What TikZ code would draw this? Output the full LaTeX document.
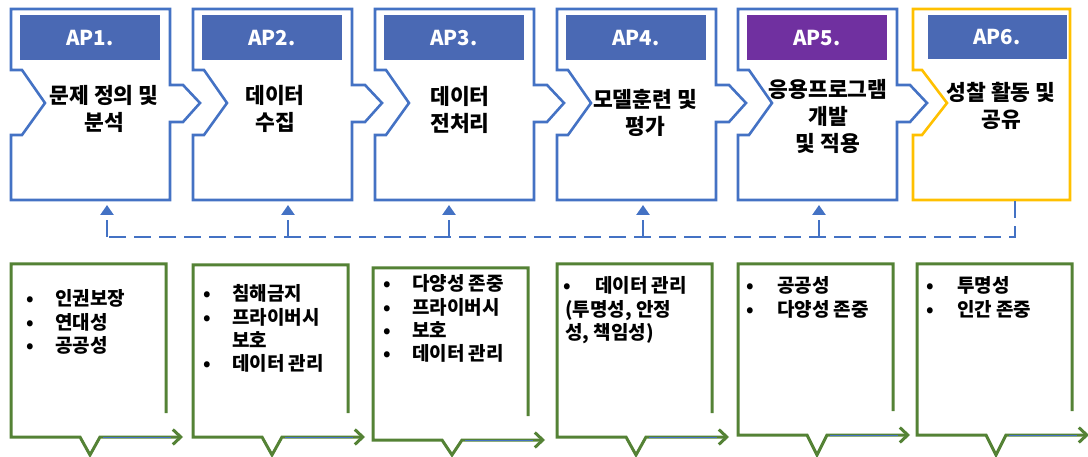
\documentclass[tikz,border=0pt]{standalone}
\usepackage{fontspec}
\setmainfont{Noto Sans CJK KR}
\usetikzlibrary{arrows.meta}
\definecolor{apblue}{HTML}{4472C4}
\definecolor{hdblue}{HTML}{4A69B4}
\definecolor{appurple}{HTML}{7030A0}
\definecolor{apyellow}{HTML}{FFC000}
\definecolor{apgreen}{HTML}{548235}
% bullet column: dot centred in a box, text starts after it
\newcommand\bul[1][50]{\makebox[#1pt][c]{•}}
\begin{document}
\begin{tikzpicture}[x=1pt,y=-1pt,
  outline/.style={line width=2.6pt,line join=miter},
  aplabel/.style={font=\fontsize{20.5}{22}\selectfont\bfseries,text=white,inner sep=0},
  title/.style={font=\fontsize{21.5}{27}\selectfont\bfseries,align=center,inner sep=0},
  itemtext/.style={font=\fontsize{19}{23.3}\selectfont\bfseries,anchor=base west,inner sep=0},
  bus/.style={draw=apblue,line width=2.6pt,dash pattern=on 17pt off 8pt},
  gbox/.style={draw=apgreen,line width=3pt,line join=miter,
    -{Straight Barb[length=8pt,width=15pt,line width=3pt]}},
]
\useasboundingbox (0,0) rectangle (1088,457);

% ---- process steps AP1..AP5 (blue outline, arrow on the right)
\foreach \x/\n/\hc in {11/1/hdblue,193/2/hdblue,375/3/hdblue,557/4/hdblue,738/5/appurple}{
  \draw[outline,draw=apblue] (\x,9) -- (\x+159,9) -- (\x+159,85) -- (\x+172,85)
    -- (\x+189,103) -- (\x+172,122) -- (\x+159,122) -- (\x+159,200) -- (\x,200)
    -- (\x,135) -- (\x+11,135) -- (\x+34,103) -- (\x+11,70) -- (\x,70) -- cycle;
  \fill[\hc] (\x+9,15) rectangle (\x+149,60);
  \node[aplabel] (ap\n) at (\x+79,38) {AP\n.};
}
% ---- last step AP6 (yellow outline, no arrow)
\draw[outline,draw=apyellow] (913,9) -- (1070,9) -- (1070,200) -- (913,200)
  -- (913,135) -- (922,135) -- (947,103) -- (922,70) -- (913,70) -- cycle;
\fill[hdblue] (928,15) rectangle (1067,59);
\node[aplabel] (ap6) at (997,37) {AP6.};

% ---- step titles
\node[title] (t1) at (104,108.5) {문제 정의 및\\분석};
\node[title] (t2) at (275,108.5) {데이터\\수집};
\node[title] (t3) at (460,109.5) {데이터\\전처리};
\node[title] (t4) at (645,113) {모델훈련 및\\평가};
\node[title] (t5) at (828,116.5) {응용프로그램\\개발\\및 적용};
\node[title] (t6) at (1001,105.5) {성찰 활동 및\\공유};

% ---- feedback bus from AP6 back to every step
\coordinate (s6) at (1015,201.5);
\coordinate (j6) at (1015,237);
\coordinate (j1) at (107,237);
\draw[bus] (s6) -- (j6) -- (j1);
\foreach \n/\x in {1/107,2/288,3/449,4/643,5/819}{
  \coordinate (b\n) at (\x,237);
  \coordinate (a\n) at (\x,205);
  \draw[bus,-{Triangle[length=10pt,width=13pt]}] (b\n) -- (a\n);
}

% ---- value boxes under each step
\foreach \x/\t/\b in {11/264/437,193/265/437,373/268/440,557/264/437,738/264/435,917/264/435}{
  \draw[gbox] (\x+155,\b-24) -- (\x+155,\t) -- (\x,\t) -- (\x,\b) -- (\x+69,\b)
    -- (\x+79,455) -- (\x+89,\b) -- (\x+172,\b);
  \draw[apblue,line width=0.8pt] (\x+92,\b) -- (\x+160,\b);
}

% ---- value lists
\node[itemtext] (v1) at (5,306) {\begin{tabular}[t]{@{}l@{}}
  \bul{}인권보장\\ \bul{}연대성\\ \bul{}공공성\end{tabular}};
\node[itemtext] (v2) at (182,301) {\begin{tabular}[t]{@{}l@{}}
  \bul{}침해금지\\ \bul{}프라이버시\\ \hspace{50pt}보호\\ \bul{}데이터 관리\end{tabular}};
\node[itemtext] (v3) at (362,291) {\begin{tabular}[t]{@{}l@{}}
  \bul{}다양성 존중\\ \bul{}프라이버시\\ \bul{}보호\\ \bul{}데이터 관리\end{tabular}};
\node[itemtext] (v4) at (539,293) {\begin{tabular}[t]{@{}l@{}}
  \bul[56]{}데이터 관리\\ \hspace{26pt}(투명성, 안정\\ \hspace{26pt}성, 책임성)\end{tabular}};
\node[itemtext] (v5) at (723,293) {\begin{tabular}[t]{@{}l@{}}
  \bul[54]{}공공성\\ \bul[54]{}다양성 존중\end{tabular}};
\node[itemtext] (v6) at (903,293) {\begin{tabular}[t]{@{}l@{}}
  \bul[54]{}투명성\\ \bul[54]{}인간 존중\end{tabular}};
\end{tikzpicture}
\end{document}
